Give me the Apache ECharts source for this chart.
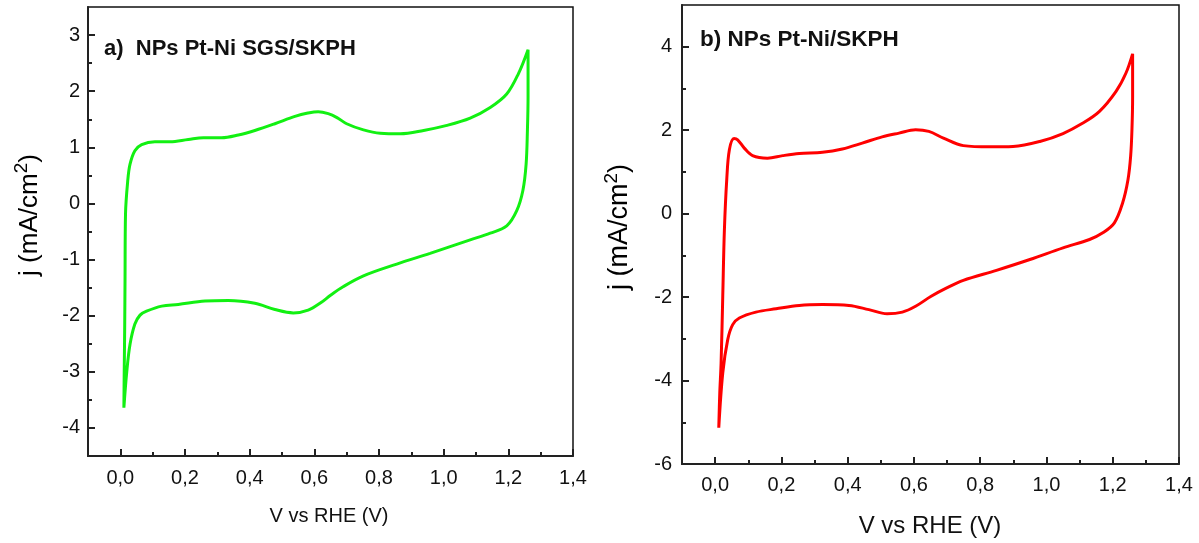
<!DOCTYPE html>
<html>
<head>
<meta charset="utf-8">
<script src="https://cdn.jsdelivr.net/npm/echarts@6/dist/echarts.min.js"></script>
<style>
html,body{margin:0;padding:0;background:#fff;}
#c{width:1199px;height:543px;}
</style>
</head>
<body>
<div id="c"></div>
<script>
// ---- Panel a) NPs Pt-Ni SGS/SKPH (green), closed CV loop: anodic then cathodic ----
const aV = [0.011,0.012,0.0135,0.0145,0.016,0.023,0.030,0.045,0.066,0.107,0.154,0.21,0.257,0.313,0.365,0.416,0.478,0.54,0.58,0.612,0.643,0.67,0.70,0.752,0.804,0.866,0.938,1.01,1.082,1.144,1.195,1.231,1.261,
            1.261,1.259,1.255,1.245,1.226,1.195,1.144,1.082,0.958,0.855,0.752,0.69,0.649,0.622,0.581,0.535,0.478,0.416,0.334,0.262,0.179,0.128,0.081,0.061,0.045,0.030,0.020,0.011];
const aJ = [-3.64,-3.0,-2.2,-1.38,-0.19,0.41,0.70,0.94,1.05,1.10,1.10,1.14,1.17,1.17,1.22,1.30,1.42,1.55,1.61,1.635,1.60,1.53,1.42,1.31,1.25,1.24,1.30,1.39,1.52,1.71,1.95,2.31,2.74,
            1.89,1.30,0.70,0.23,-0.13,-0.40,-0.53,-0.65,-0.89,-1.08,-1.29,-1.48,-1.64,-1.76,-1.90,-1.95,-1.89,-1.78,-1.73,-1.74,-1.80,-1.83,-1.92,-1.99,-2.15,-2.51,-2.99,-3.64];

// ---- Panel b) NPs Pt-Ni/SKPH (red) ----
const bV = [0.011,0.014,0.018,0.023,0.028,0.035,0.043,0.057,0.068,0.088,0.113,0.158,0.204,0.254,0.324,0.384,0.444,0.504,0.555,0.605,0.645,0.689,0.749,0.829,0.899,0.98,1.05,1.11,1.16,1.21,1.24,1.26,
            1.26,1.258,1.254,1.246,1.23,1.205,1.17,1.13,1.05,0.95,0.849,0.749,0.699,0.652,0.605,0.565,0.519,0.464,0.404,0.324,0.254,0.184,0.123,0.073,0.053,0.038,0.023,0.011];
const bJ = [-5.13,-4.3,-3.58,-1.98,-0.38,0.81,1.53,1.80,1.77,1.57,1.39,1.33,1.39,1.44,1.47,1.55,1.69,1.84,1.93,2.01,1.97,1.81,1.63,1.60,1.61,1.73,1.92,2.17,2.45,2.93,3.37,3.83,
            2.81,2.01,1.37,0.81,0.26,-0.22,-0.46,-0.62,-0.82,-1.10,-1.36,-1.60,-1.78,-1.98,-2.22,-2.36,-2.40,-2.30,-2.20,-2.18,-2.20,-2.28,-2.36,-2.50,-2.66,-3.02,-3.82,-5.13];

// ---- Tick values ----
const xMajor = [0.0,0.2,0.4,0.6,0.8,1.0,1.2,1.4];
const xMinor = [0.1,0.3,0.5,0.7,0.9,1.1,1.3];
const aYMajor = [-4,-3,-2,-1,0,1,2,3];
const aYMinor = [-3.5,-2.5,-1.5,-0.5,0.5,1.5,2.5];
const bYMajor = [-6,-4,-2,0,2,4];
const bYMinor = [-5,-3,-1,1,3];

const FF = '"Liberation Sans", Arial, Helvetica, sans-serif';
const pairs = (v, j) => v.map((x, i) => [x, j[i]]);
const comma = v => (Math.abs(v) < 1e-9 ? 0 : v).toFixed(1).replace('.', ',');
const TICK = { color: '#222', width: 2 };

function tickAxis(base, values, len) {
  return Object.assign({}, base, {
    axisLine: { show: false, onZero: false },
    axisTick: { show: true, inside: true, length: len, customValues: values, lineStyle: TICK },
    axisLabel: { show: false },
    splitLine: { show: false }
  });
}
function xAxes(gi, labelSize, labelMargin) {
  const base = { gridIndex: gi, type: 'value', position: 'bottom', offset: 0, min: -0.1, max: 1.4 };
  return [
    Object.assign({}, base, {
      axisLine: { show: true, onZero: false, lineStyle: { color: '#222', width: 2 } },
      axisTick: { show: false },
      axisLabel: { show: true, customValues: xMajor, formatter: comma, fontSize: labelSize, margin: labelMargin, color: '#111', fontFamily: FF },
      splitLine: { show: false } }),
    tickAxis(base, xMajor, 7),
    tickAxis(base, xMinor, 4)
  ];
}
function yAxes(gi, min, max, major, minor, labelSize, labelMargin) {
  const base = { gridIndex: gi, type: 'value', position: 'left', offset: 0, min: min, max: max };
  return [
    Object.assign({}, base, {
      axisLine: { show: true, onZero: false, lineStyle: { color: '#222', width: 2 } },
      axisTick: { show: false },
      axisLabel: { show: true, customValues: major, formatter: v => String(Math.round(v)), fontSize: labelSize, margin: labelMargin, color: '#111', fontFamily: FF },
      splitLine: { show: false } }),
    tickAxis(base, major, 7),
    tickAxis(base, minor, 4)
  ];
}

const chart = echarts.init(document.getElementById('c'), null, { renderer: 'canvas' });
const yTitleRich = (size) => ({
  n: { fontSize: size, fontFamily: FF, color: '#111' },
  sup: { fontSize: Math.round(size * 0.72), fontFamily: FF, color: '#111', padding: [0, 0, Math.round(size * 0.6), 0] }
});

chart.setOption({
  animation: false,
  backgroundColor: '#fff',
  grid: [
    { left: 88, top: 7, width: 485, height: 449, show: true, borderColor: '#111', borderWidth: 1.5, backgroundColor: 'transparent' },
    { left: 682, top: 5, width: 497, height: 459, show: true, borderColor: '#111', borderWidth: 1.5, backgroundColor: 'transparent' }
  ],
  xAxis: [].concat(xAxes(0, 20, 12), xAxes(1, 20, 11)),
  yAxis: [].concat(yAxes(0, -4.5, 3.5, aYMajor, aYMinor, 20, 8), yAxes(1, -6, 5, bYMajor, bYMinor, 20, 10)),
  series: [
    { type: 'line', xAxisIndex: 0, yAxisIndex: 0, data: pairs(aV, aJ), showSymbol: false, smooth: 0.35,
      lineStyle: { color: '#12f012', width: 3 } },
    { type: 'line', xAxisIndex: 3, yAxisIndex: 3, data: pairs(bV, bJ), showSymbol: false, smooth: 0.35,
      lineStyle: { color: '#ff0000', width: 3 } }
  ],
  graphic: [
    { type: 'text', x: 104, y: 49, style: { text: 'a)  NPs Pt-Ni SGS/SKPH', fontSize: 22, fontWeight: 'bold', fontFamily: FF, fill: '#111', textVerticalAlign: 'middle' } },
    { type: 'text', x: 700, y: 40, style: { text: 'b) NPs Pt-Ni/SKPH', fontSize: 22.5, fontWeight: 'bold', fontFamily: FF, fill: '#111', textVerticalAlign: 'middle' } },
    { type: 'text', x: 329, y: 516, style: { text: 'V vs RHE (V)', fontSize: 20, fontFamily: FF, fill: '#111', textAlign: 'center', textVerticalAlign: 'middle' } },
    { type: 'text', x: 930, y: 526, style: { text: 'V vs RHE (V)', fontSize: 24, fontFamily: FF, fill: '#111', textAlign: 'center', textVerticalAlign: 'middle' } },
    { type: 'text', x: 30, y: 215, rotation: Math.PI / 2, style: { text: '{n|j (mA/cm}{sup|2}{n|)}', rich: yTitleRich(26), textAlign: 'center', textVerticalAlign: 'middle' } },
    { type: 'text', x: 620, y: 227, rotation: Math.PI / 2, style: { text: '{n|j (mA/cm}{sup|2}{n|)}', rich: yTitleRich(27), textAlign: 'center', textVerticalAlign: 'middle' } }
  ]
});
</script>
</body>
</html>
